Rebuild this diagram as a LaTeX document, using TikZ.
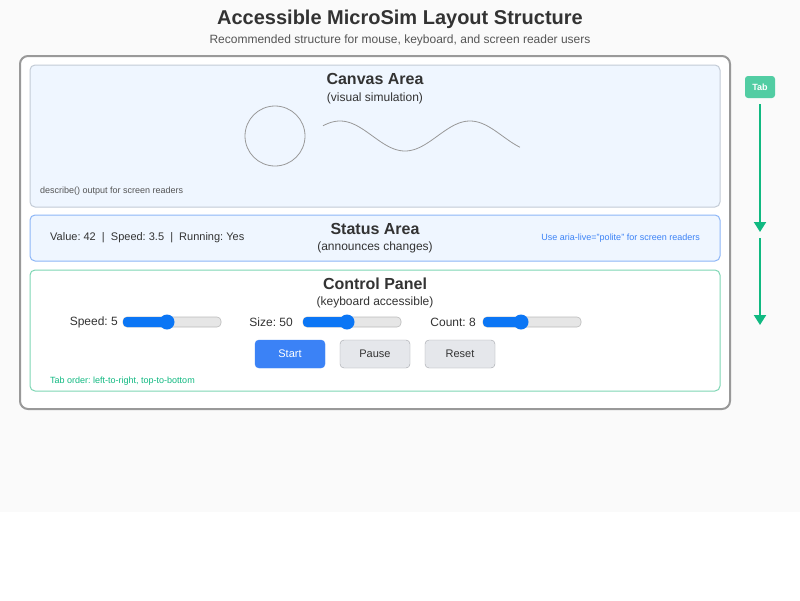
\documentclass[tikz,border=0pt]{standalone}
\usepackage{fontspec}
\setmainfont{Liberation Sans}
\usetikzlibrary{arrows.meta}
\frenchspacing
\definecolor{bgc}{HTML}{FAFAFA}
\definecolor{txt}{HTML}{333333}
\definecolor{sub}{HTML}{555555}
\definecolor{outer}{HTML}{999999}
\definecolor{canvfill}{HTML}{EFF6FF}
\definecolor{canvline}{HTML}{C3CBD6}
\definecolor{statline}{HTML}{8DB6F7}
\definecolor{ctrlline}{HTML}{7ED6B4}
\definecolor{blu}{HTML}{3B82F6}
\definecolor{thumb}{HTML}{0B76F5}
\definecolor{grn}{HTML}{10B981}
\definecolor{badge}{HTML}{52CDA3}
\definecolor{btngray}{HTML}{E5E7EB}
\definecolor{btnline}{HTML}{A3A6AB}
\definecolor{track}{HTML}{E6E6E6}
\definecolor{trackline}{HTML}{BBBBBB}
\definecolor{shapegray}{HTML}{999999}
\tikzset{
  panel/.style={rounded corners=5pt, line width=1pt},
  ttl/.style={font=\bfseries\fontsize{16}{19}\selectfont, text=txt, inner sep=0pt},
  subt/.style={font=\fontsize{12}{14}\selectfont, text=txt, inner sep=0pt},
  note/.style={font=\fontsize{9}{11}\selectfont, inner sep=0pt},
  lbl/.style={font=\fontsize{12}{14}\selectfont, text=txt, inner sep=0pt},
  btn/.style={minimum width=70pt, minimum height=28pt, rounded corners=4pt, font=\fontsize{11}{13}\selectfont, inner sep=0pt},
  tabarrow/.style={draw=grn, line width=2pt, -{Triangle[length=10pt,width=12pt]}},
  simline/.style={draw=shapegray, line width=0.8pt},
}
\newcommand{\slider}[3]{% x start, thumb x, name
  \draw[fill=track, draw=trackline, line width=0.6pt, rounded corners=4pt] (#1,317) rectangle ++(98,10);
  \fill[thumb, rounded corners=4pt] (#1,317) rectangle (#2,327);
  \node[circle, fill=thumb, minimum size=15pt, inner sep=0pt] (#3) at (#2,322) {};
}
\begin{document}
\begin{tikzpicture}[x=1pt,y=-1pt]
\useasboundingbox (0,0) rectangle (800,600);
\fill[white] (0,0) rectangle (800,600);
\fill[bgc] (0,0) rectangle (800,512);

\node[font=\bfseries\fontsize{20}{24}\selectfont, text=txt, inner sep=0pt] (title) at (400,19) {Accessible MicroSim Layout Structure};
\node[font=\fontsize{12}{14}\selectfont, text=sub, inner sep=0pt] (subtitle) at (400,40) {Recommended structure for mouse, keyboard, and screen reader users};

% outer container
\draw[fill=white, draw=outer, line width=2pt, rounded corners=8pt] (20,56) rectangle (730,409);

% canvas area
\draw[panel, fill=canvfill, draw=canvline] (30,65) rectangle (720,207);
\node[ttl] (canvtitle) at (375,79) {Canvas Area};
\node[subt] (canvsub) at (375,98) {(visual simulation)};
\draw[simline] (275,136) circle (30);
\draw[simline] plot[domain=323:520, samples=120, smooth] (\x, {136+15*sin(2.76923*(\x-372.5))});
\node[note, text=sub, anchor=west] (describe) at (40,191) {describe() output for screen readers};

% status area
\draw[panel, fill=canvfill, draw=statline] (30,215) rectangle (720,261);
\node[ttl] (stattitle) at (375,229) {Status Area};
\node[subt] (statsub) at (375,247) {(announces changes)};
\node[font=\fontsize{11}{13}\selectfont, text=txt, inner sep=0pt, anchor=west] (values) at (50,238) {Value: 42 \ | \ Speed: 3.5 \ | \ Running: Yes};
\node[note, text=blu, anchor=east] (aria) at (700,238) {Use aria-live="polite" for screen readers};

% control panel
\draw[panel, fill=white, draw=ctrlline] (30,270) rectangle (720,391);
\node[ttl] (ctrltitle) at (375,284) {Control Panel};
\node[subt] (ctrlsub) at (375,302) {(keyboard accessible)};

\node[lbl, anchor=east] (speedlbl) at (118,322) {Speed: 5};
\slider{123}{167}{speedthumb}
\node[lbl, anchor=east] (sizelbl) at (293,322) {Size: 50};
\slider{303}{347}{sizethumb}
\node[lbl, anchor=east] (countlbl) at (476,322) {Count: 8};
\slider{483}{521}{countthumb}

\node[btn, fill=blu, draw=blu, text=white] (start) at (290,354) {Start};
\node[btn, fill=btngray, draw=btnline, text=txt] (pause) at (375,354) {Pause};
\node[btn, fill=btngray, draw=btnline, text=txt] (reset) at (460,354) {Reset};

\node[note, text=grn, anchor=west] (taborder) at (50,381) {Tab order: left-to-right, top-to-bottom};

% tab flow
\node[fill=badge, text=white, rounded corners=3pt, minimum width=30pt, minimum height=22pt, inner sep=0pt, font=\bfseries\fontsize{9}{11}\selectfont] (tab) at (760,87) {Tab};
\coordinate (mid1) at (760,232);
\coordinate (mid2) at (760,238);
\coordinate (end2) at (760,325);
\draw[tabarrow] ([yshift=-6pt]tab.south) -- (mid1);
\draw[tabarrow] (mid2) -- (end2);
\end{tikzpicture}
\end{document}
